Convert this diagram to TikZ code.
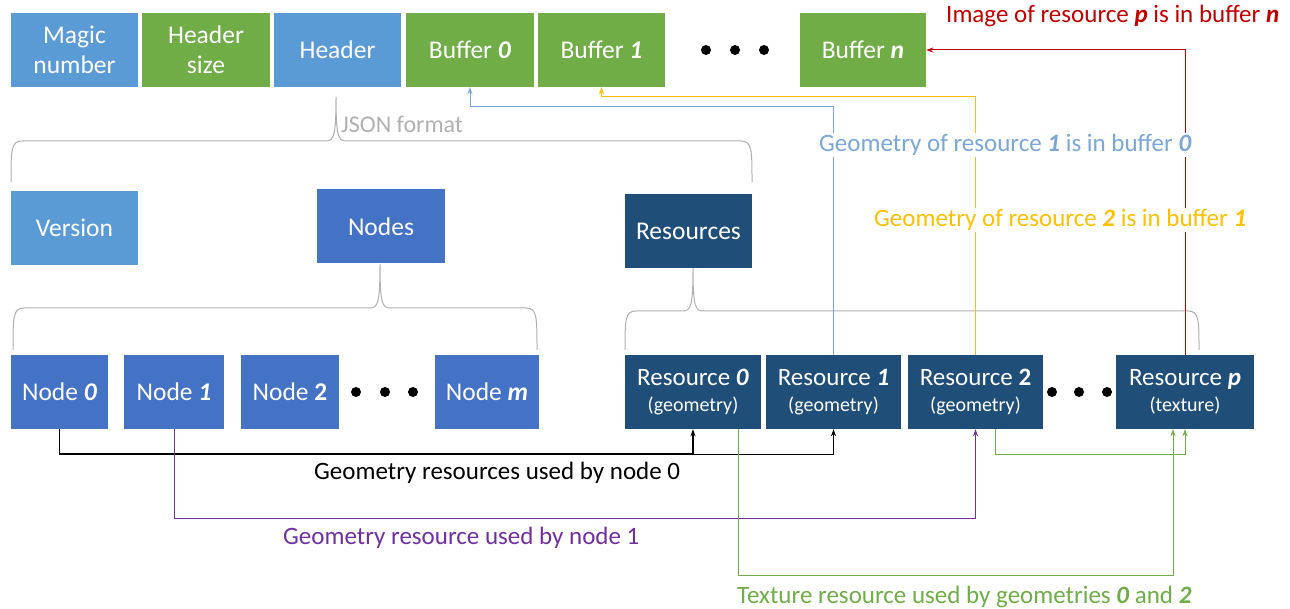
\documentclass[tikz,border=0pt]{standalone}
\usepackage{fontspec}
\setmainfont{Carlito}
\usetikzlibrary{arrows.meta,calc}
\definecolor{lblue}{HTML}{5B9BD5}
\definecolor{gboxc}{HTML}{70AD47}
\definecolor{mblue}{HTML}{4472C4}
\definecolor{dblue}{HTML}{1F4E79}
\definecolor{gbrace}{HTML}{B0B0B0}
\definecolor{bluec}{HTML}{7BA7D6}
\definecolor{yelc}{HTML}{FFC000}
\definecolor{redc}{HTML}{C00000}
\definecolor{purc}{HTML}{7030A0}
\definecolor{grnc}{HTML}{70AD47}
\newcommand{\bi}[1]{\textbf{\textit{#1}}}
\begin{document}
\begin{tikzpicture}[x=1pt,y=-1pt,
  box/.style={inner sep=0pt, text=white, align=center, minimum height=74pt, font=\fontsize{25.5}{30}\selectfont},
  lab/.style={inner sep=1pt, fill=white, anchor=west, font=\fontsize{25}{30}\selectfont},
  con/.style={line width=1pt, -{Stealth[length=7pt,width=5pt]}},
  brace/.style={draw=gbrace, line width=1pt},
  dot/.style={circle, fill=black, inner sep=0pt, minimum size=10pt}]
\fill[white] (0,0) rectangle (1290,609);
\useasboundingbox (0,0) rectangle (1290,609);

% top row
\node[box, fill=lblue, minimum width=127pt] (magic) at (74.5,50) {Magic\\number};
\node[box, fill=gboxc, minimum width=128pt] (hsize) at (206,50) {Header\\size};
\node[box, fill=lblue, minimum width=127pt] (header) at (337.5,50) {Header};
\node[box, fill=gboxc, minimum width=128pt] (buf0) at (470,50) {Buffer \bi{0}};
\node[box, fill=gboxc, minimum width=127pt] (buf1) at (601.5,50) {Buffer \bi{1}};
\node[dot] (td1) at (706,50) {};
\node[dot] (td2) at (735,50) {};
\node[dot] (td3) at (764,50) {};
\node[box, fill=gboxc, minimum width=126pt] (bufn) at (863,50) {Buffer \bi{n}};

% second row
\node[box, fill=lblue, minimum width=127pt] (version) at (74.5,228) {Version};
\node[box, fill=mblue, minimum width=128pt] (nodes) at (381,226.5) {Nodes};
\node[box, fill=dblue, minimum width=127pt] (resources) at (688.5,231) {Resources};

% bottom row
\node[box, fill=mblue, minimum width=97pt] (n0) at (59.5,392) {Node \bi{0}};
\node[box, fill=mblue, minimum width=100pt] (n1) at (174,392) {Node \bi{1}};
\node[box, fill=mblue, minimum width=98pt] (n2) at (290,392) {Node \textbf{2}};
\node[dot] (nd1) at (356,392) {};
\node[dot] (nd2) at (385,392) {};
\node[dot] (nd3) at (413,392) {};
\node[box, fill=mblue, minimum width=104pt] (nm) at (487,392) {Node \bi{m}};

\node[box, fill=dblue, minimum width=136pt, font=\fontsize{25}{26}\selectfont] (r0) at (693,392) {Resource \bi{0}\\{\fontsize{20}{26}\selectfont (geometry)}};
\node[box, fill=dblue, minimum width=135pt, font=\fontsize{25}{26}\selectfont] (r1) at (833.5,392) {Resource \bi{1}\\{\fontsize{20}{26}\selectfont (geometry)}};
\node[box, fill=dblue, minimum width=135pt, font=\fontsize{25}{26}\selectfont] (r2) at (975.5,392) {Resource \textbf{2}\\{\fontsize{20}{26}\selectfont (geometry)}};
\node[dot] (rd1) at (1052,392) {};
\node[dot] (rd2) at (1079,392) {};
\node[dot] (rd3) at (1107,392) {};
\node[box, fill=dblue, minimum width=138pt, font=\fontsize{25}{26}\selectfont] (rp) at (1185,392) {Resource \bi{p}\\{\fontsize{20}{26}\selectfont (texture)}};

% braces
\draw[brace] (11,182) .. controls (11,150) and (11,141) .. (22,141) -- (326,141) .. controls (334,141) and (336,135) .. (336,97)
  .. controls (336,135) and (338,141) .. (346,141) -- (741,141) .. controls (752,141) and (752,150) .. (752,182);
\draw[brace] (13,350) .. controls (13,317) and (13,308) .. (24,308) -- (370,308) .. controls (378,308) and (380,302) .. (380,264)
  .. controls (380,302) and (382,308) .. (390,308) -- (526,308) .. controls (537,308) and (537,317) .. (537,350);
\draw[brace] (625,350) .. controls (625,320) and (625,311) .. (636,311) -- (683,311) .. controls (691,311) and (693,305) .. (693,268)
  .. controls (693,305) and (695,311) .. (703,311) -- (1188,311) .. controls (1199,311) and (1199,320) .. (1199,350);

% connectors to buffers
\draw[con, bluec] (r1.north) -- ++(0,-248) -| (buf0.south);
\draw[con, yelc] (r2.north) -- ++(0,-258) -| (buf1.south);
\draw[con, redc] (rp.north) |- (bufn.east);

% connectors below
\draw[con, black, line width=1.8pt] (n0.south) -- ++(0,25) -| (r0.south);
\draw[con, black, line width=1.4pt] (n0.south) -- ++(0,25) -| (r1.south);
\draw[con, purc] (n1.south) -- ++(0,89) -| (r2.south);
\draw[con, grnc] ([xshift=45pt]r0.south) -- ++(0,146) -| ([xshift=-12pt]rp.south);
\draw[con, grnc] ([xshift=19.5pt]r2.south) -- ++(0,25) -| (rp.south);

% labels
\node[lab, text=redc] (lred) at (945,16) {Image of resource \bi{p} is in buffer \bi{n}};
\node[lab, text=bluec] (lblue) at (818,145) {Geometry of resource \bi{1} is in buffer \bi{0}};
\node[lab, text=yelc] (lyel) at (873,220) {Geometry of resource \bi{2} is in buffer \bi{1}};
\node[lab, text=gbrace, fill=none, font=\fontsize{24}{28}\selectfont] (ljson) at (340,124) {JSON format};
\node[lab, text=black, fill=none] (lblack) at (313,473) {Geometry resources used by node 0};
\node[lab, text=purc, fill=none] (lpur) at (282,538) {Geometry resource used by node 1};
\node[lab, text=grnc, fill=none] (lgrn) at (736,597) {Texture resource used by geometries \bi{0} and \bi{2}};
\end{tikzpicture}
\end{document}
